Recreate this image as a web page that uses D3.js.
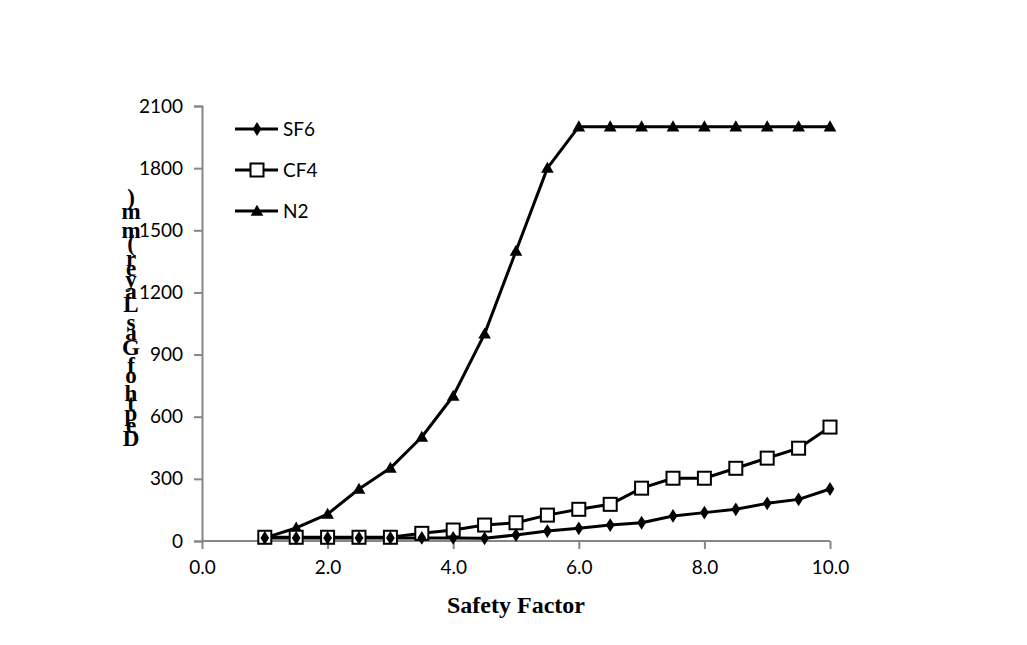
<!DOCTYPE html>
<html><head><meta charset="utf-8">
<script src="https://cdn.jsdelivr.net/npm/d3@7"></script>
<style>body{margin:0;background:#fff}svg{display:block}</style>
</head><body>
<svg id="c" width="1027" height="645"></svg>
<script>
const xValues = [1,1.5,2,2.5,3,3.5,4,4.5,5,5.5,6,6.5,7,7.5,8,8.5,9,9.5,10];
const sf6 = [15,15,15,15,15,15,15,13,29,48,61,77,88,121,137,153,182,201,251];
const cf4 = [18,18,18,18,18,37,53,77,88,125,153,177,255,303,303,351,400,448,550];
const n2  = [15,63,130,251,352,502,700,1000,1400,1800,2000,2000,2000,2000,2000,2000,2000,2000,2000];
const seriesNames = ["SF6","CF4","N2"];
const xTicks = [0,2,4,6,8,10];
const yTicks = [0,300,600,900,1200,1500,1800,2100];
const xTitle = "Safety Factor";
const yTitle = "Depth of Gas Layer (mm)";

const svg = d3.select("#c");
const x = d3.scaleLinear().domain([0,10]).range([202,830]);
const y = d3.scaleLinear().domain([0,2100]).range([541,106]);
const axisColor = "#868686";
const tickFont = "Lato, 'Open Sans', sans-serif";
const tickSize = "19px";

// axes
const gx = svg.append("g").attr("transform",`translate(0,${y(0)})`)
  .call(d3.axisBottom(x).tickValues(xTicks).tickFormat(d3.format(".1f")).tickSizeOuter(0).tickSize(8).tickPadding(12));
const gy = svg.append("g").attr("transform",`translate(${x(0)},0)`)
  .call(d3.axisLeft(y).tickValues(yTicks).tickFormat(d3.format("d")).tickSizeOuter(0).tickSize(8).tickPadding(11));
[gx,gy].forEach(g=>{
  g.select(".domain").attr("stroke",axisColor).attr("stroke-width",2);
  g.selectAll(".tick line").attr("stroke",axisColor).attr("stroke-width",2);
  g.selectAll(".tick text").attr("fill","#000").style("font-family",tickFont).style("font-size",tickSize);
});
gx.select(".domain").attr("d",`M${x(0)},0H${x(10)}`);

// lines
const data = [sf6,cf4,n2];
const line = d3.line().x((d,i)=>x(xValues[i])).y(d=>y(d));
const order = [2,1,0];
order.forEach(k=>{
  svg.append("path").datum(data[k]).attr("d",line).attr("fill","none")
    .attr("stroke","#000").attr("stroke-width",3).attr("stroke-linejoin","round");
});
function marker(g,k,cx,cy){
  if(k===0){
    g.append("path").attr("d",d3.symbol().type(d3.symbolDiamond).size(55)()).attr("transform",`translate(${cx},${cy}) scale(1.1,1)`).attr("fill","#000");
  } else if(k===1){
    g.append("rect").attr("x",cx-6.5).attr("y",cy-6.5).attr("width",13).attr("height",13).attr("fill","#fff").attr("stroke","#000").attr("stroke-width",2);
  } else {
    g.append("path").attr("d",d3.symbol().type(d3.symbolTriangle).size(70)()).attr("transform",`translate(${cx},${cy+1})`).attr("fill","#000");
  }
}
order.forEach(k=>{
  const g = svg.append("g");
  data[k].forEach((v,i)=>marker(g,k,x(xValues[i]),y(v)));
});

// legend
const legY = [129,170,211];
seriesNames.forEach((name,k)=>{
  const g = svg.append("g");
  g.append("line").attr("x1",235).attr("x2",278).attr("y1",legY[k]).attr("y2",legY[k]).attr("stroke","#000").attr("stroke-width",3);
  marker(g,k,257,legY[k]);
  g.append("text").attr("x",283).attr("y",legY[k]).attr("dy","0.36em").text(name)
    .style("font-family",tickFont).style("font-size",tickSize);
});

// x title
svg.append("text").attr("x",516).attr("y",613).attr("text-anchor","middle")
  .style("font-family","'Liberation Serif','Times New Roman',serif").style("font-weight","bold").style("font-size","24px")
  .text(xTitle);

// y title: upright glyphs stacked bottom-to-top
const yt = svg.append("g").style("font-family","'Liberation Serif','Times New Roman',serif").style("font-weight","bold").style("font-size","23px");
const meas = yt.append("text").attr("x",-1000).attr("y",-1000);
const chars = Array.from(yTitle);
let offsets = [];
for(let i=0;i<=chars.length;i++){
  meas.text(yTitle.slice(0,i).replace(/ /g,"\u00a0"));
  offsets.push(meas.node().getComputedTextLength());
}
meas.remove();
const total = offsets[chars.length];
const yCenter = 320;
const yBottom = yCenter + total/2;
chars.forEach((ch,i)=>{
  if(ch===" ") return;
  const c = (offsets[i]+offsets[i+1])/2;
  yt.append("text").attr("x",131).attr("y",yBottom - c).attr("text-anchor","middle").attr("dy","0.35em").text(ch);
});
</script>
</body></html>
